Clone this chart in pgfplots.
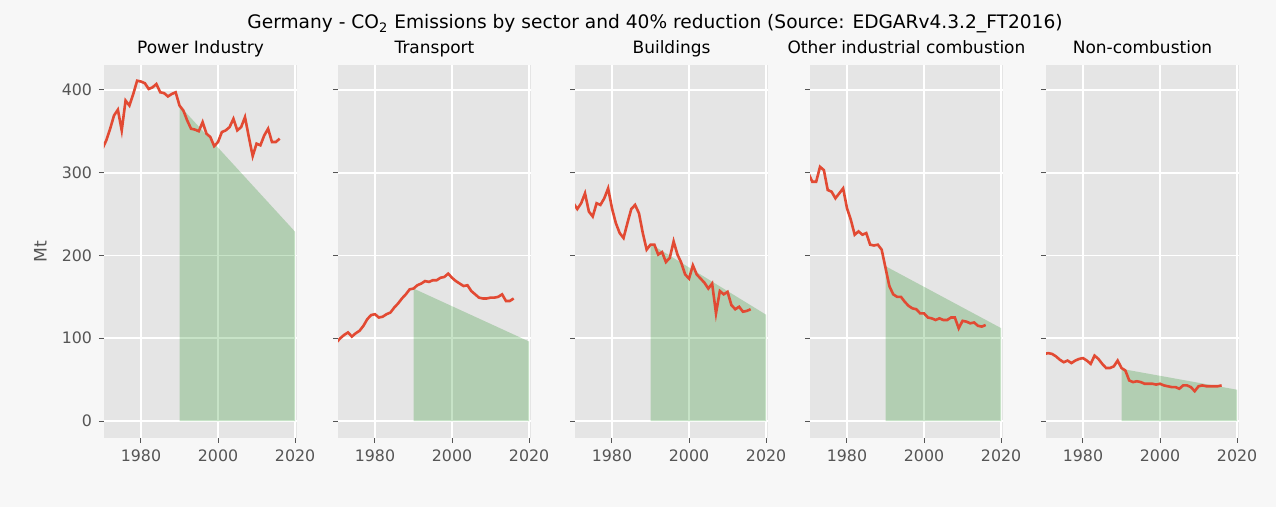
\documentclass[border=0pt]{standalone}
\usepackage{fontspec}
\setmainfont{DejaVu Sans}
\usepackage{pgfplots}
\pgfplotsset{compat=1.18}

\definecolor{figbg}{RGB}{247,247,247}
\definecolor{panelbg}{RGB}{229,229,229}
\definecolor{linered}{RGB}{226,74,51}
\definecolor{tickgray}{RGB}{85,85,85}
\definecolor{fillgreen}{RGB}{0,128,0}

\pgfplotsset{
  panel/.style={
    anchor=south west,
    scale only axis,
    width=96.5pt, height=186.5pt,
    xmin=1970.4, xmax=2020.5,
    ymin=-20.5, ymax=430,
    xtick={1980,2000,2020},
    ytick={0,100,200,300,400},
    axis background/.style={fill=panelbg},
    axis line style={draw=none},
    grid=major,
    major grid style={white, line width=0.9pt},
    tick pos=left,
    tick align=outside,
    major tick length=2.5pt,
    tick style={tickgray, line width=0.5pt},
    ticklabel style={font=\fontsize{7.9}{9}\selectfont, text=tickgray},
    /pgf/number format/1000 sep={},
    /pgf/number format/assume math mode=true,
    title style={at={(0.5,1)}, anchor=base, yshift=-0.5pt, inner sep=0pt,
      font=\fontsize{8.5}{10}\selectfont},
    clip=true,
  },
  emis/.style={linered, line width=1.3pt},
  target/.style={draw=none, fill=fillgreen, fill opacity=0.22},
}

\begin{document}
\begin{tikzpicture}
\fill[figbg] (0,0) rectangle (638pt,253.5pt);
\node[font=\fontsize{9.3}{11}\selectfont] at (327.5pt,241.5pt)
  {Germany - CO\textsubscript{2} Emissions by sector and 40\% reduction (Source: EDGARv4.3.2\_FT2016)};

% Power Industry
\begin{axis}[panel, at={(52pt,34.5pt)}, title={Power Industry},
  ylabel={Mt}, ylabel style={at={(axis description cs:-0.33,0.5)}, anchor=center,
  font=\fontsize{8.6}{9}\selectfont, text=tickgray}]
\addplot[target] coordinates {(1990,0) (1990,381) (2020,228.6) (2020,0)} -- cycle;
\addplot[emis] coordinates {
(1970,329) (1971,339) (1972,353) (1973,369) (1974,376) (1975,351) (1976,387)
(1977,381) (1978,395) (1979,411) (1980,410) (1981,408) (1982,401) (1983,403)
(1984,407) (1985,397) (1986,396) (1987,392) (1988,395) (1989,397) (1990,381)
(1991,375) (1992,363) (1993,353) (1994,352) (1995,350) (1996,361) (1997,347)
(1998,343) (1999,332) (2000,337) (2001,349) (2002,351) (2003,355) (2004,365)
(2005,351) (2006,355) (2007,367) (2008,343) (2009,320) (2010,335) (2011,333)
(2012,345) (2013,353) (2014,337) (2015,337) (2016,341)};
\end{axis}

% Transport
\begin{axis}[panel, at={(169pt,34.5pt)}, title={Transport}, yticklabels={}]
\addplot[target] coordinates {(1990,0) (1990,160) (2020,96) (2020,0)} -- cycle;
\addplot[emis] coordinates {
(1970,95) (1971,100) (1972,104) (1973,107) (1974,102) (1975,106) (1976,109)
(1977,115) (1978,123) (1979,128) (1980,129) (1981,125) (1982,126) (1983,129)
(1984,131) (1985,137) (1986,142) (1987,148) (1988,153) (1989,159) (1990,160)
(1991,164) (1992,166) (1993,169) (1994,168) (1995,170) (1996,170) (1997,173)
(1998,174) (1999,178) (2000,173) (2001,169) (2002,166) (2003,163) (2004,164)
(2005,157) (2006,153) (2007,149) (2008,148) (2009,148) (2010,149) (2011,149)
(2012,150) (2013,153) (2014,145) (2015,145) (2016,148)};
\end{axis}

% Buildings
\begin{axis}[panel, at={(287.5pt,34.5pt)}, title={Buildings}, yticklabels={}]
\addplot[target] coordinates {(1990,0) (1990,214) (2020,128.4) (2020,0)} -- cycle;
\addplot[emis] coordinates {
(1970,263) (1971,256) (1972,263) (1973,275) (1974,253) (1975,247) (1976,263)
(1977,261) (1978,269) (1979,281) (1980,257) (1981,239) (1982,227) (1983,221)
(1984,239) (1985,256) (1986,261) (1987,251) (1988,227) (1989,207) (1990,213)
(1991,213) (1992,201) (1993,204) (1994,192) (1995,197) (1996,217) (1997,201)
(1998,191) (1999,177) (2000,172) (2001,188) (2002,177) (2003,172) (2004,167)
(2005,160) (2006,166) (2007,130) (2008,157) (2009,153) (2010,156) (2011,140)
(2012,135) (2013,138) (2014,132) (2015,133) (2016,135)};
\end{axis}

% Other industrial combustion
\begin{axis}[panel, at={(405pt,34.5pt)}, title={Other industrial combustion}, yticklabels={}]
\addplot[target] coordinates {(1990,0) (1990,187) (2020,112.2) (2020,0)} -- cycle;
\addplot[emis] coordinates {
(1970,299) (1971,289) (1972,289) (1973,307) (1974,303) (1975,279) (1976,277)
(1977,269) (1978,275) (1979,281) (1980,257) (1981,243) (1982,225) (1983,229)
(1984,225) (1985,227) (1986,213) (1987,212) (1988,213) (1989,207) (1990,185)
(1991,163) (1992,153) (1993,150) (1994,150) (1995,144) (1996,139) (1997,136)
(1998,135) (1999,130) (2000,130) (2001,125) (2002,124) (2003,122) (2004,124)
(2005,122) (2006,122) (2007,125) (2008,125) (2009,112) (2010,121) (2011,120)
(2012,118) (2013,119) (2014,115) (2015,114) (2016,116)};
\end{axis}

% Non-combustion
\begin{axis}[panel, at={(523pt,34.5pt)}, title={Non-combustion}, yticklabels={}]
\addplot[target] coordinates {(1990,0) (1990,63) (2020,37.8) (2020,0)} -- cycle;
\addplot[emis] coordinates {
(1970,81) (1971,82) (1972,81) (1973,78) (1974,74) (1975,71) (1976,73)
(1977,70) (1978,73) (1979,75) (1980,76) (1981,73) (1982,69) (1983,79)
(1984,75) (1985,69) (1986,64) (1987,64) (1988,66) (1989,73) (1990,64)
(1991,61) (1992,49) (1993,47) (1994,48) (1995,47) (1996,45) (1997,45)
(1998,45) (1999,44) (2000,45) (2001,43) (2002,42) (2003,41) (2004,41)
(2005,39) (2006,43) (2007,43) (2008,41) (2009,36) (2010,42) (2011,43)
(2012,42) (2013,42) (2014,42) (2015,42) (2016,43)};
\end{axis}
\end{tikzpicture}
\end{document}
